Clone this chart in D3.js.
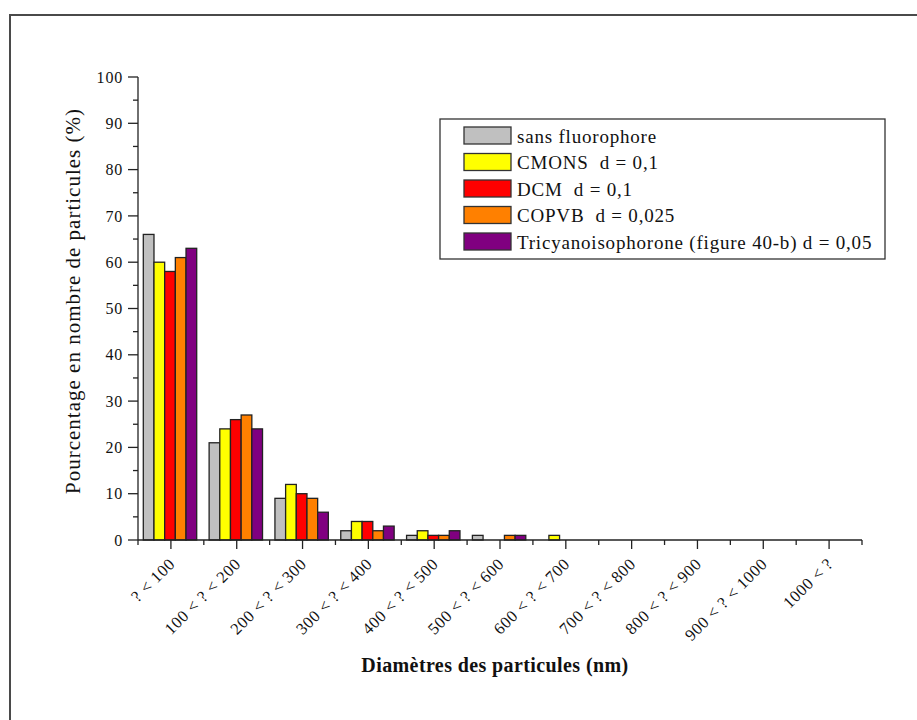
<!DOCTYPE html>
<html><head><meta charset="utf-8">
<script src="https://cdn.jsdelivr.net/npm/d3@7"></script>
<style>body{margin:0;background:#fff}svg{display:block}text{white-space:pre}</style>
</head><body>
<svg id="c" width="917" height="720"></svg>
<script>
const categories = ["? < 100","100 < ? < 200","200 < ? < 300","300 < ? < 400","400 < ? < 500","500 < ? < 600","600 < ? < 700","700 < ? < 800","800 < ? < 900","900 < ? < 1000","1000 < ?"];
const seriesNames = ["sans fluorophore","CMONS  d = 0,1","DCM  d = 0,1","COPVB  d = 0,025","Tricyanoisophorone (figure 40-b) d = 0,05"];
const sansFluorophore = [66,21,9,2,1,1,0,0,0,0,0];
const cmons = [60,24,12,4,2,0,1,0,0,0,0];
const dcm = [58,26,10,4,1,0,0,0,0,0,0];
const copvb = [61,27,9,2,1,1,0,0,0,0,0];
const tricyano = [63,24,6,3,2,1,0,0,0,0,0];
const colors = ["#c0c0c0","#ffff00","#ff0000","#ff8000","#800080"];
const yTicks = [0,10,20,30,40,50,60,70,80,90,100];

const series = [sansFluorophore, cmons, dcm, copvb, tricyano];

const svg = d3.select("#c");
const serif = "'Liberation Serif','Times New Roman',serif";

// outer frame
svg.append("rect").attr("x",10).attr("y",15).attr("width",1000).attr("height",1000)
  .attr("fill","none").attr("stroke","#4a4a4a").attr("stroke-width",2);

const x0 = d3.scaleBand().domain(categories).range([138,862]).paddingInner(0).paddingOuter(0);
const x1 = d3.scaleBand().domain(d3.range(seriesNames.length)).range([5.3, 58.7]).paddingInner(0).paddingOuter(0);
const y = d3.scaleLinear().domain([0,100]).range([540,77]);

// bars
const g = svg.append("g");
categories.forEach((c,i)=>{
  series.forEach((s,j)=>{
    const v = s[i];
    if (v<=0) return;
    g.append("rect")
      .attr("x", x0(c)+x1(j)).attr("y", y(v))
      .attr("width", x1.bandwidth()).attr("height", y(0)-y(v))
      .attr("fill", colors[j]).attr("stroke","#222").attr("stroke-width",1.3);
  });
});

// y axis
const ya = svg.append("g").attr("transform","translate(138,0)");
ya.append("line").attr("y1",y(0)).attr("y2",y(100)).attr("stroke","#222").attr("stroke-width",1.3);
d3.range(0,101,5).forEach(v=>{
  const major = v%10===0;
  ya.append("line").attr("x1",major?-10:-5).attr("x2",0).attr("y1",y(v)).attr("y2",y(v)).attr("stroke","#222").attr("stroke-width",1.3);
});
yTicks.forEach(v=>{
  ya.append("text").attr("x",-15).attr("y",y(v)).attr("dy","0.35em").attr("text-anchor","end")
    .attr("font-family",serif).attr("font-size",16).attr("letter-spacing",0.8).attr("fill","#111").text(v);
});

// x axis
const xa = svg.append("g");
xa.append("line").attr("x1",138).attr("x2",862).attr("y1",540).attr("y2",540).attr("stroke","#222").attr("stroke-width",1.3);
categories.forEach((c,i)=>{
  const cx = x0(c)+x0.bandwidth()/2;
  xa.append("line").attr("x1",cx).attr("x2",cx).attr("y1",540).attr("y2",549).attr("stroke","#222").attr("stroke-width",1.3);
  xa.append("line").attr("x1",x0(c)).attr("x2",x0(c)).attr("y1",540).attr("y2",545).attr("stroke","#222").attr("stroke-width",1.3);
  xa.append("text").attr("transform",`translate(${cx+5},${565}) rotate(-45)`).attr("text-anchor","end")
    .attr("font-family",serif).attr("font-size",16.5).attr("letter-spacing",0.6).attr("fill","#111").text(c);
});
xa.append("line").attr("x1",862).attr("x2",862).attr("y1",540).attr("y2",545).attr("stroke","#222").attr("stroke-width",1.3);

// axis titles
svg.append("text").attr("x",495).attr("y",672).attr("text-anchor","middle")
  .attr("font-family",serif).attr("font-weight","bold").attr("font-size",20).attr("letter-spacing",0.4).attr("fill","#111")
  .text("Diamètres des particules (nm)");
svg.append("text").attr("transform","translate(80,301) rotate(-90)").attr("text-anchor","middle")
  .attr("font-family",serif).attr("font-size",21).attr("letter-spacing",1.0).attr("fill","#111")
  .text("Pourcentage en nombre de particules (%)");

// legend
const lg = svg.append("g");
lg.append("rect").attr("x",440).attr("y",119).attr("width",445).attr("height",140)
  .attr("fill","#fff").attr("stroke","#333").attr("stroke-width",1.3);
seriesNames.forEach((n,j)=>{
  const cy = 136 + j*26.5;
  lg.append("rect").attr("x",464).attr("y",cy-9).attr("width",47).attr("height",17)
    .attr("fill",colors[j]).attr("stroke","#333").attr("stroke-width",1.3);
  lg.append("text").attr("x",517).attr("y",cy).attr("dy","0.35em")
    .attr("font-family",serif).attr("font-size",19).attr("letter-spacing",0.8).attr("fill","#111").text(n);
});
</script>
</body></html>
